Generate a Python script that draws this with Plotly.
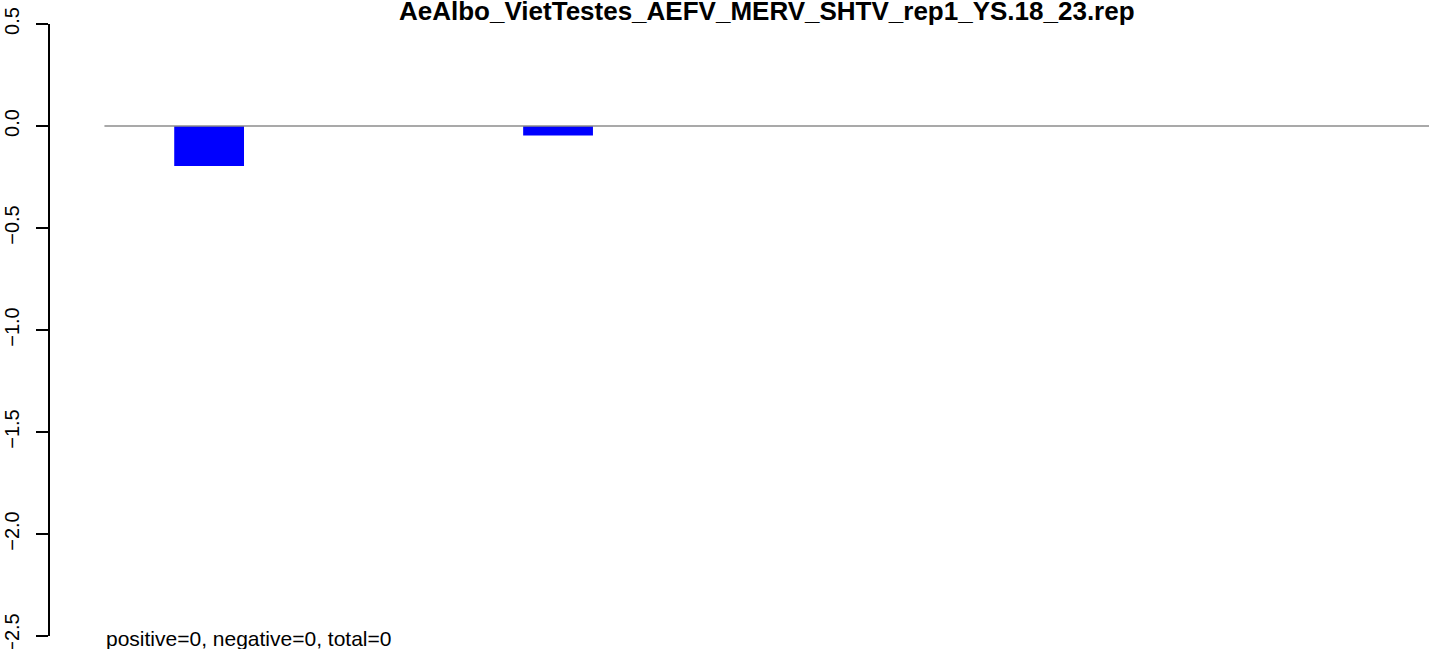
import plotly.graph_objects as go

# read length (nt) and bar value
LENGTHS = [18, 19, 20, 21, 22, 23]
VALUES = [-0.196, 0.0, 0.0, 0.0, 0.0, -0.047]
Y_TICKS = [0.5, 0.0, -0.5, -1.0, -1.5, -2.0, -2.5]
Y_TICK_TEXT = ["0.5", "0.0", "\u22120.5", "\u22121.0", "\u22121.5", "\u22122.0", "\u22122.5"]
TITLE = "AeAlbo_VietTestes_AEFV_MERV_SHTV_rep1_YS.18_23.rep"
FOOTER = "positive=0, negative=0, total=0"

W, H = 1429, 649
L, R, T, B = 50, 0, 24, 13
X_RANGE = [15.72, 35.48]

fig = go.Figure(go.Bar(
    x=LENGTHS, y=VALUES, width=1.0,
    marker_color="#0000FF", marker_line_width=0,
    hoverinfo="skip",
))

# zero line, grey, starting just left of the first bar
fig.add_shape(type="line", xref="x", yref="y",
              x0=16.5, x1=X_RANGE[1], y0=0, y1=0,
              line=dict(color="#8c8c8c", width=1.5))

fig.update_layout(
    width=W, height=H,
    margin=dict(l=L, r=R, t=T, b=B, autoexpand=False),
    plot_bgcolor="white", paper_bgcolor="white",
    showlegend=False,
    font=dict(family="Liberation Sans, Arial, sans-serif", color="black"),
)
fig.update_xaxes(range=X_RANGE, visible=False, showgrid=False, zeroline=False)
fig.update_yaxes(
    range=[-2.5, 0.5], tickvals=Y_TICKS, ticktext=Y_TICK_TEXT,
    tickangle=-90, ticks="outside", ticklen=12, tickwidth=1.5, tickcolor="black",
    showline=True, linecolor="black", linewidth=1.5, automargin=False,
    showgrid=False, zeroline=False, tickfont=dict(size=20),
    ticklabelstandoff=9, ticklabeloverflow="allow",
)

fig.add_annotation(text="<b>" + TITLE + "</b>", xref="paper", yref="paper",
                   x=(767 - L) / (W - L - R), y=1, yshift=13,
                   showarrow=False, font=dict(size=26),
                   xanchor="center", yanchor="middle")
fig.add_annotation(text=FOOTER, xref="paper", yref="paper",
                   x=(104 - L) / (W - L - R), y=0, yshift=-2,
                   showarrow=False, font=dict(size=21),
                   xanchor="left", yanchor="middle")

# drop the browser's default body margin so the figure sits at the window corner
fig.write_html("out.html", config={"displayModeBar": False},
               post_script="document.body.style.margin='0';")
